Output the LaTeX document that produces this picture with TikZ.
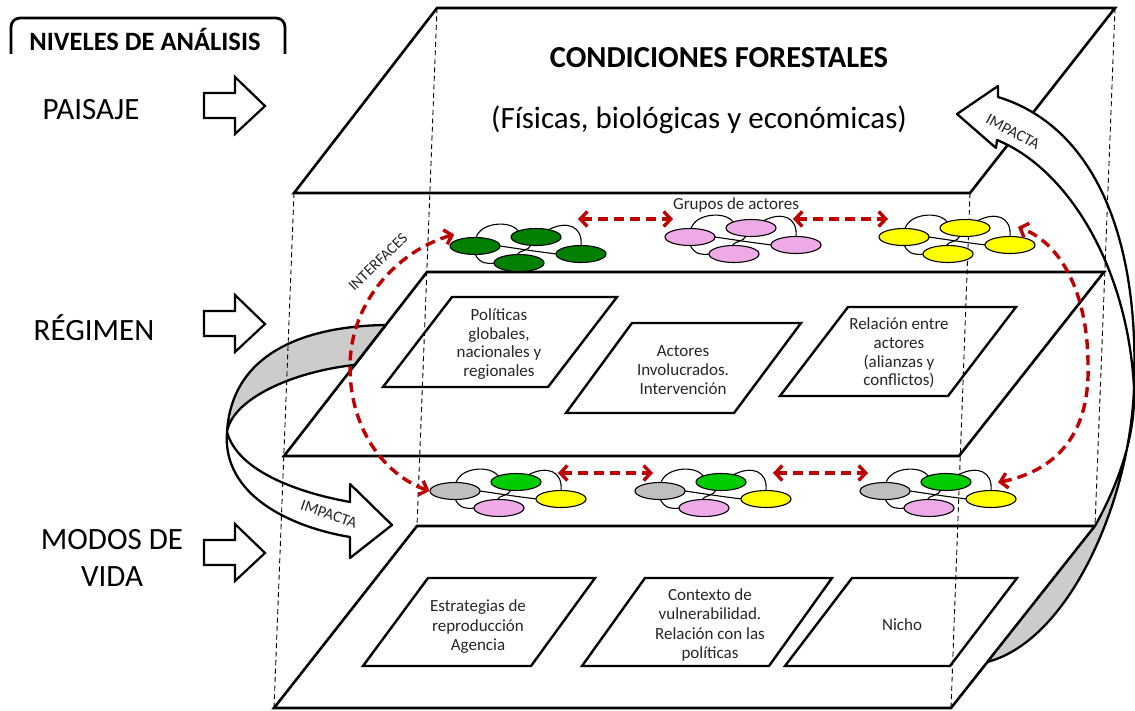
\documentclass[tikz,border=0pt]{standalone}
\usepackage{fontspec}
\setmainfont{Carlito}
\usetikzlibrary{arrows.meta,shapes.geometric,calc}

\definecolor{linkred}{RGB}{192,0,0}
\definecolor{bandgray}{RGB}{204,204,204}
\definecolor{dkgreen}{RGB}{0,128,0}
\definecolor{ltgreen}{RGB}{0,204,0}
\definecolor{actpink}{RGB}{238,170,230}
\definecolor{actyellow}{RGB}{255,255,0}
\definecolor{actgrey}{RGB}{191,191,191}
\definecolor{txtgray}{RGB}{38,38,38}

\tikzset{
  plane/.style={draw, line width=2.6pt, line join=miter},
  innerbox/.style={draw, line width=2.4pt, line join=miter},
  guide/.style={draw, line width=0.9pt, dash pattern=on 5pt off 3.5pt},
  ribbon/.style={draw, line width=2.3pt, line join=round},
  tie/.style={draw, line width=1.1pt},
  actor/.style={ellipse, draw, line width=1.1pt, minimum width=50pt, minimum height=17pt, inner sep=0pt},
  redlink/.style={draw=linkred, line width=3.4pt, dash pattern=on 10pt off 6pt,
    arrows={Straight Barb[length=7pt,width=15pt]-Straight Barb[length=7pt,width=15pt]}},
  blockarr/.style={draw, fill=white, line width=2.2pt, line join=miter},
  lvl/.style={font=\fontsize{31}{37}\selectfont, align=center},
  boxtxt/.style={font=\fontsize{17}{18.7}\selectfont, align=center, text=txtgray},
  boxtxtb/.style={font=\fontsize{17}{19.5}\selectfont, align=center, text=txtgray},
  smalltxt/.style={font=\fontsize{16}{18}\selectfont, text=txtgray},
}

\newcommand\actgroup[7]{%
  \begin{scope}[shift={(#1,#2)}]
    \draw[tie] (1,-8) .. controls (5,-24) and (36,-26) .. (43,-15);
    \draw[tie] (73,-16) .. controls (92,-26) and (108,-20) .. (106,0);
    \draw[tie] (0,8) .. controls (5,18) and (12,18) .. (20,17);
    \draw[tie] (25,0) .. controls (45,3) and (65,6) .. (82,8);
    \draw[tie] (56,-1) .. controls (54,5) and (44,4) .. (42,9);
    \node[actor,fill=#3] (#7a) at (0,0) {};
    \node[actor,fill=#4] (#7b) at (61,-9) {};
    \node[actor,fill=#5] (#7c) at (106,8) {};
    \node[actor,fill=#6] (#7d) at (44,17) {};
  \end{scope}}

\newcommand\blockarrow[1]{%
  \begin{scope}[shift={(0,#1)}]
    \draw[blockarr] (204,-13) -- (235,-13) -- (235,-29) -- (265,0) -- (235,28) -- (235,12) -- (204,12) -- cycle;
  \end{scope}}

\begin{document}
\begin{tikzpicture}[x=1pt,y=-1pt]
\useasboundingbox (0,0) rectangle (1135,711);

% plane corners
\coordinate (A1) at (437,8);   \coordinate (B1) at (1115,8);
\coordinate (C1) at (970,193); \coordinate (D1) at (294,193);
\coordinate (A2) at (427,272); \coordinate (B2) at (1104,272);
\coordinate (C2) at (959,456); \coordinate (D2) at (284,456);
\coordinate (A3) at (417,526); \coordinate (B3) at (1095,526);
\coordinate (C3) at (951,708); \coordinate (D3) at (274,708);

% left ribbon arrow (behind regime plane)
\coordinate (Lo) at ($(D2)!0.712!(A2)$);
\coordinate (Li) at ($(D2)!0.495!(A2)$);
\coordinate (Lt) at (227,432);
\path[ribbon, fill=bandgray] (Lo) .. controls (310,326) and (232,350) .. (Lt)
   .. controls (232,400) and (290,372) .. (Li) -- cycle;
\path[ribbon, fill=white] (Lt) .. controls (238,472) and (300,493) .. (350,502)
   -- (350,484) -- (392,525) -- (350,558) -- (350,537)
   .. controls (290,527) and (222,495) .. (Lt) -- cycle;

% planes
\draw[plane] (A1) -- (B1) -- (C1) -- (D1) -- cycle;
\draw[plane] (A2) -- (B2) -- (C2) -- (D2) -- cycle;
\draw[plane] (A3) -- (B3) -- (C3) -- (D3) -- cycle;

% right ribbon arrow
\coordinate (Rt) at (1134,388);
\coordinate (Re) at ($(C3)!0.253!(B3)$);
\path[ribbon, fill=bandgray] (Rt) .. controls (1130,500) and (1070,640) .. (Re)
   -- (B3) .. controls (1115,490) and (1136,440) .. (Rt) -- cycle;
\path[ribbon, fill=white] (957,114) -- (998,86) -- (998,97)
   .. controls (1090,125) and (1140,230) .. (Rt)
   .. controls (1128,270) and (1070,170) .. (997,140) -- (996,148) -- cycle;

% dashed guide edges
\draw[guide] (D1) -- (D3);
\draw[guide] (A1) -- (A3);
\draw[guide] (B1) -- (B3);
\draw[guide] (C1) -- (C3);

% regime boxes
\draw[innerbox] (452,297) -- (617,297) -- (548,387) -- (383,387) -- cycle;
\draw[innerbox] (632,323) -- (801,323) -- (734,413) -- (566,413) -- cycle;
\draw[innerbox] (848,307) -- (1016,307) -- (948,396) -- (780,396) -- cycle;
\node[boxtxt] (pol) at (499,344) {Políticas\\globales,\\nacionales y\\regionales};
\node[boxtxt] (act) at (683,370) {Actores\\Involucrados.\\Intervención};
\node[boxtxt] (rel) at (899,353) {Relación entre\\actores\\(alianzas y\\conflictos)};

% livelihood boxes
\draw[innerbox] (428,578) -- (595,578) -- (531,666) -- (363,666) -- cycle;
\draw[innerbox] (645,578) -- (832,578) -- (769,666) -- (582,666) -- cycle;
\draw[innerbox] (852,578) -- (1017,578) -- (950,666) -- (785,666) -- cycle;
\node[boxtxtb] (estr) at (478,627) {Estrategias de\\reproducción\\Agencia};
\node[boxtxtb] (ctx) at (710,625) {Contexto de\\vulnerabilidad.\\Relación con las\\políticas};
\node[boxtxtb] (nicho) at (902,625) {Nicho};

% actor groups
\actgroup{475}{246}{dkgreen}{dkgreen}{dkgreen}{dkgreen}{tg}
\actgroup{690}{237}{actpink}{actpink}{actpink}{actpink}{tp}
\actgroup{904}{237}{actyellow}{actyellow}{actyellow}{actyellow}{ty}
\actgroup{455}{491}{actgrey}{ltgreen}{actyellow}{actpink}{ba}
\actgroup{660}{491}{actgrey}{ltgreen}{actyellow}{actpink}{bb}
\actgroup{885}{491}{actgrey}{ltgreen}{actyellow}{actpink}{bc}

% red interface links
\coordinate (t1l) at (578,219); \coordinate (t1r) at (673,219);
\coordinate (t2l) at (793,219); \coordinate (t2r) at (888,219);
\coordinate (b1l) at (558,473); \coordinate (b1r) at (653,473);
\coordinate (b2l) at (773,473); \coordinate (b2r) at (868,473);
\draw[redlink] (t1l) -- (t1r);
\draw[redlink] (t2l) -- (t2r);
\draw[redlink] (b1l) -- (b1r);
\draw[redlink] (b2l) -- (b2r);
\draw[redlink] (baa.west) .. controls (385,475) and (350,430) .. (350,367)
   .. controls (350,300) and (400,250) .. ([shift={(-3pt,5pt)}]tga.160);
\draw[redlink] ([shift={(7pt,7.5pt)}]bcc.north) .. controls (1060,470) and (1090,430) .. (1088,365)
   .. controls (1088,300) and (1065,245) .. ([shift={(8pt,9pt)}]tyc.north);

% texts
\node[font=\bfseries\fontsize{26.5}{30}\selectfont] (niveles) at (145,39) {NIVELES DE ANÁLISIS};
\draw[line width=2.8pt, rounded corners=9pt] (11,54) -- (11,18) -- (285,18) -- (285,54);
\node[lvl] (paisaje) at (91,110) {PAISAJE};
\node[lvl] (regimen) at (94,328) {RÉGIMEN};
\node[lvl] (modos) at (112,558) {MODOS DE\\VIDA};
\node[font=\bfseries\fontsize{30.5}{35}\selectfont] (cond) at (719,58) {CONDICIONES FORESTALES};
\node[font=\fontsize{31}{36}\selectfont] (fis) at (699,120) {(Físicas, biológicas y económicas)};
\node[font=\fontsize{17}{20}\selectfont, text=txtgray] (grupos) at (736,205) {Grupos de actores};
\node[font=\fontsize{15.5}{18}\selectfont, text=txtgray, rotate=44] (interf) at (378,262) {INTERFACES};
\node[smalltxt, rotate=-19] (imp1) at (329,514) {IMPACTA};
\node[smalltxt, rotate=-28] (imp2) at (1013,132) {IMPACTA};

% level arrows
\blockarrow{106}
\blockarrow{324}
\blockarrow{553}
\end{tikzpicture}
\end{document}
